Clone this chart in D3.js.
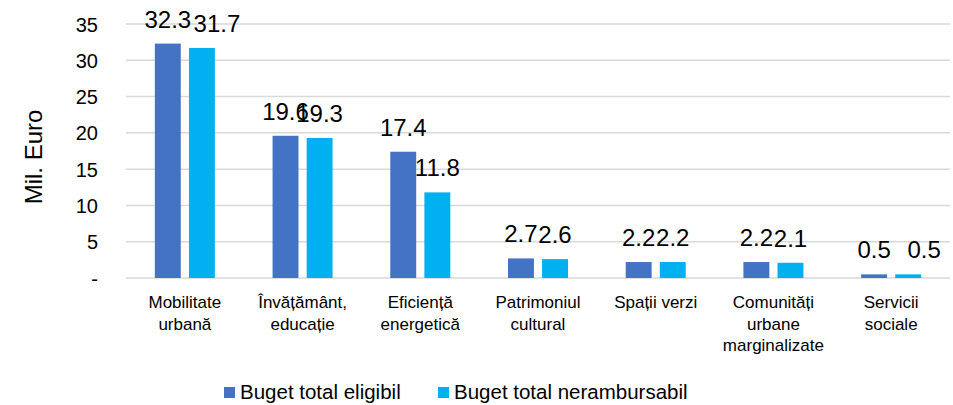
<!doctype html>
<html lang="en">
<head>
  <meta charset="utf-8">
  <title>Buget</title>
  <style>
    body { margin: 0; background: #fff; }
    svg { font-family: Arial, "Liberation Sans", sans-serif; display: block; }
    .grid line { stroke: #d9d9d9; stroke-width: 1.5; }
  </style>
</head>
<body>
  <div id="chart"></div>
  <script src="https://cdn.jsdelivr.net/npm/d3@7"></script>
  <script>
// categories (lines split where the labels wrap)
var categories = [
  ["Mobilitate", "urbană"],
  ["Învățământ,", "educație"],
  ["Eficiență", "energetică"],
  ["Patrimoniul", "cultural"],
  ["Spații verzi"],
  ["Comunități", "urbane", "marginalizate"],
  ["Servicii", "sociale"]
];
var seriesNames = ["Buget total eligibil", "Buget total nerambursabil"];
var eligibil = [32.3, 19.6, 17.4, 2.7, 2.2, 2.2, 0.5];
var nerambursabil = [31.7, 19.3, 11.8, 2.6, 2.2, 2.1, 0.5];
var yTicks = [0, 5, 10, 15, 20, 25, 30, 35];
var colors = ["#4472C4", "#00B0F0"];

(function(){
  var width = 953, height = 405;
  var mLeft = 126, mRight = 950, mTop = 24, mBottom = 278;

  var svg = d3.select("#chart").append("svg")
      .attr("width", width)
      .attr("height", height);

  var y = d3.scaleLinear().domain([0, 35]).range([mBottom, mTop]);
  var x = d3.scaleBand().domain(d3.range(categories.length)).range([mLeft, mRight]);
  var xs = d3.scaleBand().domain([0, 1])
      .range([x.bandwidth() / 2 - 30, x.bandwidth() / 2 + 30]).paddingInner(0.24);

  // gridlines
  svg.append("g").attr("class", "grid")
    .selectAll("line").data(yTicks).enter().append("line")
      .attr("x1", mLeft).attr("x2", mRight)
      .attr("y1", function(d) { return y(d); })
      .attr("y2", function(d) { return y(d); });

  // y axis labels
  var yAxis = d3.axisLeft(y).tickValues(yTicks).tickSize(0).tickPadding(0)
    .tickFormat(function(d) { return d === 0 ? "-" : d; });
  svg.append("g")
      .attr("transform", "translate(98,0)")
      .call(yAxis)
      .call(function(g) { g.select(".domain").remove(); })
      .selectAll("text")
      .attr("font-size", 20)
      .attr("font-family", "Arial, 'Liberation Sans', sans-serif")
      .attr("fill", "#000")
      .attr("dy", "0.35em");

  svg.append("text")
      .attr("transform", "translate(42,157) rotate(-90)")
      .attr("text-anchor", "middle")
      .attr("font-size", 24)
      .text("Mil. Euro");

  // a few labels of the second series are pushed right in the original
  var labelNudge = { 0: 15, 6: 16 };

  // bars
  var data = [eligibil, nerambursabil];
  data.forEach(function(vals, s) {
    var g = svg.append("g");
    g.selectAll("rect").data(vals).enter().append("rect")
      .attr("x", function(d, i) { return x(i) + xs(s); })
      .attr("width", xs.bandwidth())
      .attr("y", function(d) { return y(d); })
      .attr("height", function(d) { return y(0) - y(d); })
      .attr("fill", colors[s]);
    g.selectAll("text").data(vals).enter().append("text")
      .attr("x", function(d, i) {
        var nudge = s === 1 ? (labelNudge[i] || 0) : 0;
        return x(i) + xs(s) + xs.bandwidth() / 2 + nudge;
      })
      .attr("y", function(d) { return y(d) - 16; })
      .attr("text-anchor", "middle")
      .attr("font-size", 24)
      .attr("fill", "#000")
      .text(function(d) { return d.toFixed(1); });
  });

  // category labels
  var cat = svg.append("g").selectAll("text").data(categories).enter().append("text")
      .attr("text-anchor", "middle")
      .attr("font-size", 17)
      .attr("fill", "#000");
  cat.selectAll("tspan").data(function(d, i) { return d.map(function(t) { return [t, i]; }); })
    .enter().append("tspan")
      .attr("x", function(d) { return x(d[1]) + x.bandwidth() / 2; })
      .attr("y", function(d, j) { return 308 + j * 21.5; })
      .text(function(d) { return d[0]; });

  // legend
  var legX = [224, 438];
  seriesNames.forEach(function(name, s) {
    svg.append("rect")
      .attr("x", legX[s]).attr("y", 387)
      .attr("width", 11).attr("height", 11)
      .attr("fill", colors[s]);
    svg.append("text")
      .attr("x", legX[s] + 16).attr("y", 399)
      .attr("font-size", 20.5)
      .attr("fill", "#000")
      .text(name);
  });
})();
  </script>
</body>
</html>
